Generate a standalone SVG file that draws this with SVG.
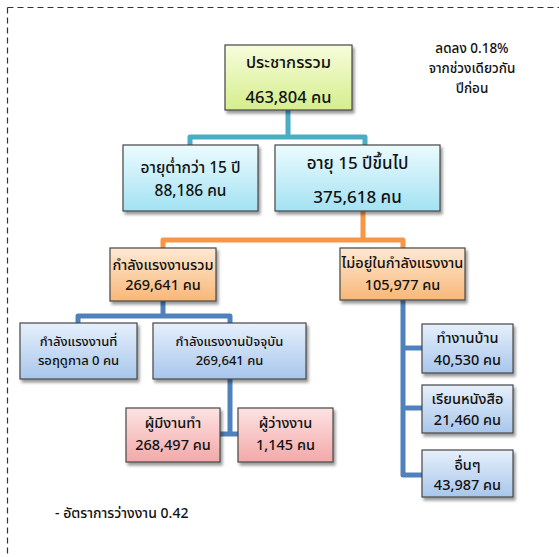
<svg xmlns="http://www.w3.org/2000/svg" width="559" height="557" viewBox="0 0 559 557">
<defs>
<linearGradient id="gGreen" x1="0" y1="0" x2="0" y2="1"><stop offset="0" stop-color="#f7fcdc"/><stop offset="1" stop-color="#d5ee8c"/></linearGradient>
<linearGradient id="gCyan" x1="0" y1="0" x2="0" y2="1"><stop offset="0" stop-color="#ecfbfe"/><stop offset="1" stop-color="#a3e2f3"/></linearGradient>
<linearGradient id="gOrange" x1="0" y1="0" x2="0" y2="1"><stop offset="0" stop-color="#fee9d3"/><stop offset="1" stop-color="#f8b778"/></linearGradient>
<linearGradient id="gBlue" x1="0" y1="0" x2="0" y2="1"><stop offset="0" stop-color="#e6f0fb"/><stop offset="1" stop-color="#a8c6ec"/></linearGradient>
<linearGradient id="gPink" x1="0" y1="0" x2="0" y2="1"><stop offset="0" stop-color="#fde3e3"/><stop offset="1" stop-color="#f3a8a8"/></linearGradient>
<filter id="sh" x="-10%" y="-10%" width="130%" height="140%"><feDropShadow dx="2" dy="3" stdDeviation="1.6" flood-color="#000" flood-opacity="0.4"/></filter>
</defs>
<style>
.box{stroke:#474747;stroke-width:1.2;filter:url(#sh)}
text{font-family:Tahoma,"Noto Sans Thai","Noto Sans","DejaVu Sans",sans-serif;fill:#111;text-anchor:middle;font-weight:500}
.c1{stroke:#4bacc6;stroke-width:5;fill:none;stroke-linejoin:round;stroke-linecap:butt}
.c2{stroke:#f79646;stroke-width:5;fill:none;stroke-linejoin:round}
.c3{stroke:#4f81bd;stroke-width:5;fill:none;stroke-linejoin:round}
.border{stroke:#333;stroke-width:1.2;stroke-dasharray:6 4;fill:none}
</style>
<rect width="559" height="557" fill="#fff"/>
<path class="border" d="M7.5,7.5 H559 M7.5,7.5 V557"/>
<g id="connectors">
<path class="c1" d="M288,110 V137 M190,146 V137 H365 V146"/>
<path class="c2" d="M363,211 V240 M163,249 V240 H403 V249"/>
<path class="c3" d="M163,301 V316 M78,324 V316 H230 V324"/>
<path class="c3" d="M230,379 V435 M220,434 H239"/>
<path class="c3" d="M403,300 V475 H423 M403,348 H423 M403,408 H423"/>
</g>
<g id="total"><rect class="box" x="225" y="45" width="127" height="65" fill="url(#gGreen)"/>
<text x="288.5" y="68" font-size="16.5">ประชากรรวม</text><text x="288.5" y="103" font-size="16.5">463,804 คน</text></g>
<g id="under15"><rect class="box" x="123" y="145" width="135" height="66" fill="url(#gCyan)"/>
<text x="190.5" y="173" font-size="15.5">อายุต่ำกว่า 15 ปี</text><text x="190.5" y="196" font-size="15.5">88,186 คน</text></g>
<g id="over15"><rect class="box" x="275" y="145" width="165" height="66" fill="url(#gCyan)"/>
<text x="357.5" y="169" font-size="17">อายุ 15 ปีขึ้นไป</text><text x="357.5" y="203" font-size="17">375,618 คน</text></g>
<g id="labourforce"><rect class="box" x="110" y="248" width="106" height="53" fill="url(#gOrange)"/>
<text x="163" y="270" font-size="14.5">กำลังแรงงานรวม</text><text x="163" y="290" font-size="14.5">269,641 คน</text></g>
<g id="notlabour"><rect class="box" x="340" y="248" width="125" height="52" fill="url(#gOrange)"/>
<text x="402.5" y="268" font-size="14.5">ไม่อยู่ในกำลังแรงงาน</text><text x="402.5" y="290" font-size="14.5">105,977 คน</text></g>
<g id="seasonal"><rect class="box" x="20" y="323" width="117" height="56" fill="url(#gBlue)"/>
<text x="78.5" y="346" font-size="13">กำลังแรงงานที่</text><text x="78.5" y="365" font-size="13">รอฤดูกาล 0 คน</text></g>
<g id="current"><rect class="box" x="153" y="323" width="153" height="56" fill="url(#gBlue)"/>
<text x="229.5" y="346" font-size="13">กำลังแรงงานปัจจุบัน</text><text x="229.5" y="365" font-size="13">269,641 คน</text></g>
<g id="employed"><rect class="box" x="126" y="408" width="94" height="54" fill="url(#gPink)"/>
<text x="173" y="428" font-size="14.5">ผู้มีงานทำ</text><text x="173" y="450" font-size="14.5">268,497 คน</text></g>
<g id="unemployed"><rect class="box" x="238" y="408" width="95" height="54" fill="url(#gPink)"/>
<text x="285.5" y="428" font-size="14.5">ผู้ว่างงาน</text><text x="285.5" y="450" font-size="14.5">1,145 คน</text></g>
<g id="housework"><rect class="box" x="422" y="324" width="91" height="49" fill="url(#gBlue)"/>
<text x="467.5" y="343" font-size="14.5">ทำงานบ้าน</text><text x="467.5" y="365" font-size="14.5">40,530 คน</text></g>
<g id="study"><rect class="box" x="422" y="385" width="91" height="48" fill="url(#gBlue)"/>
<text x="467.5" y="404" font-size="14.5">เรียนหนังสือ</text><text x="467.5" y="425" font-size="14.5">21,460 คน</text></g>
<g id="other"><rect class="box" x="422" y="450" width="91" height="47" fill="url(#gBlue)"/>
<text x="467.5" y="470" font-size="14.5">อื่นๆ</text><text x="467.5" y="490" font-size="14.5">43,987 คน</text></g>
<g id="notes">
<text x="472" y="53" font-size="13.5">ลดลง 0.18%</text>
<text x="472" y="73" font-size="13.5">จากช่วงเดียวกัน</text>
<text x="472" y="93" font-size="13.5">ปีก่อน</text>
<text x="55" y="518" font-size="14" style="text-anchor:start">- อัตราการว่างงาน 0.42</text>
</g>
</svg>
